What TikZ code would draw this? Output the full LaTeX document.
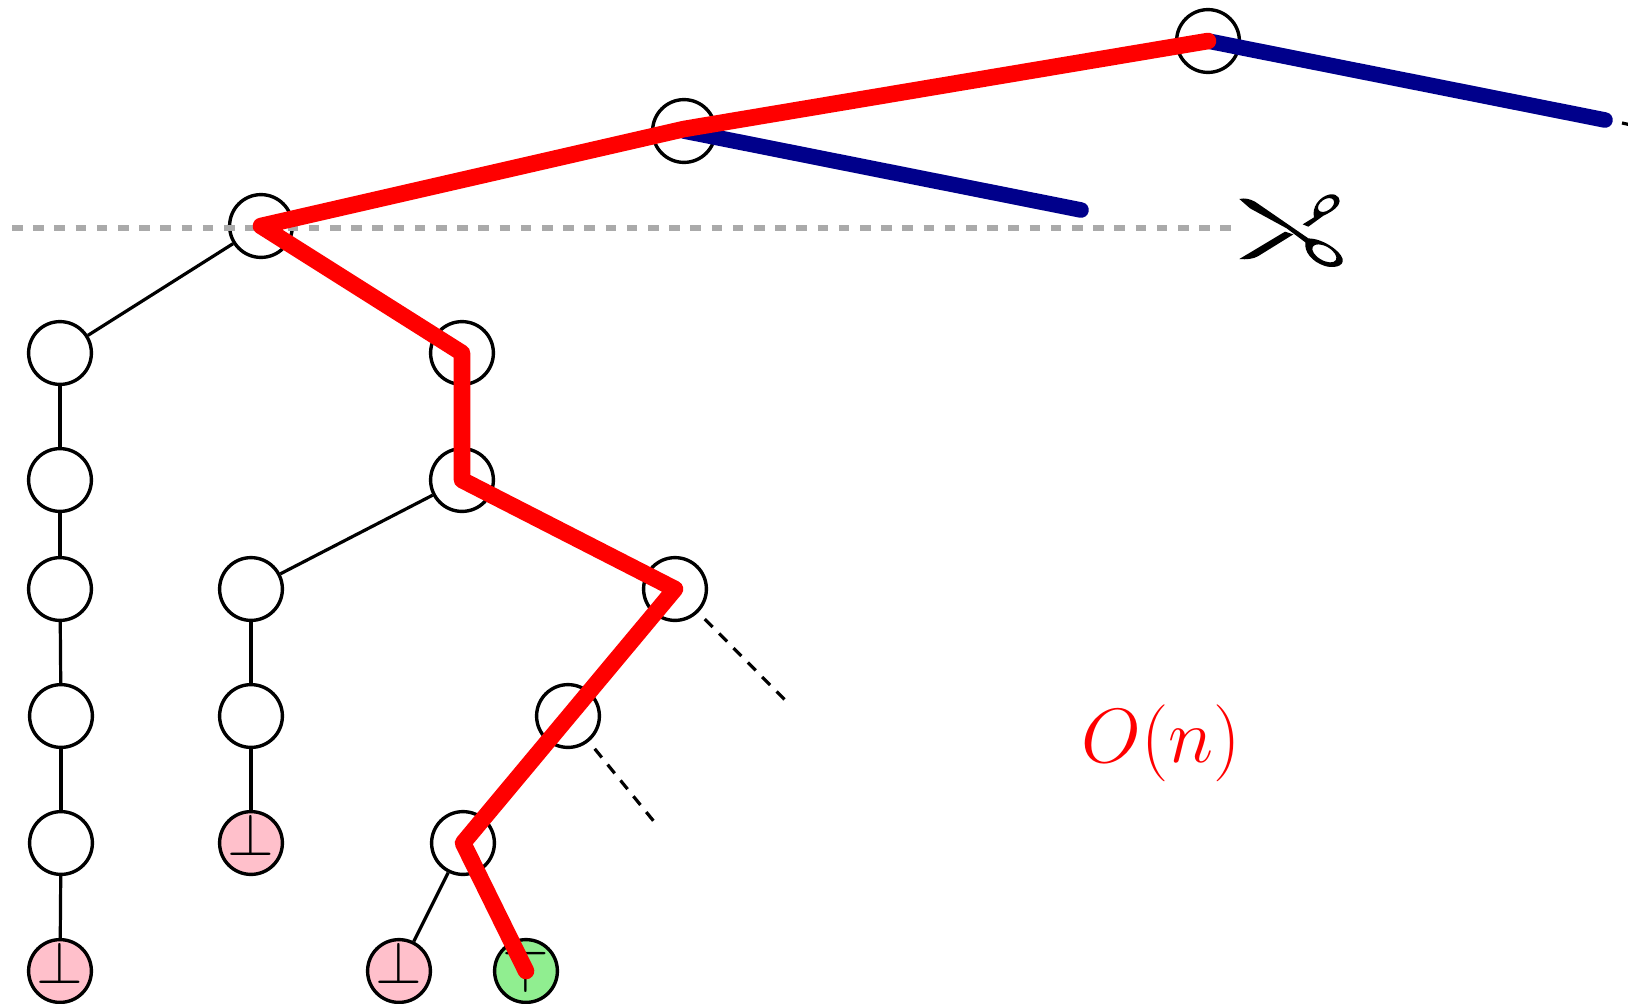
\documentclass[tikz,border=0pt]{standalone}
\usepackage{fix-cm}
\definecolor{PathClr}{RGB}{255,0,0}
\definecolor{BranchClr}{RGB}{0,0,139}
\definecolor{CutClr}{RGB}{170,170,170}
\definecolor{BotClr}{RGB}{255,192,203}
\definecolor{TopClr}{RGB}{144,238,144}
\tikzset{
  vertex/.style={circle,draw=black,line width=1.7pt,minimum size=31.4pt,inner sep=0pt,fill=white},
  botleaf/.style={vertex,fill=BotClr,font=\fontsize{30}{30}\selectfont,text height=12pt,text depth=0pt},
  topleaf/.style={vertex,fill=TopClr,font=\fontsize{30}{30}\selectfont,text height=21pt,text depth=0pt},
  treeedge/.style={line width=1.6pt,color=black},
  openedge/.style={line width=1.6pt,color=black,dash pattern=on 5.6pt off 4.6pt,dash phase=5.6pt},
  cutline/.style={line width=3.4pt,color=CutClr,dash pattern=on 5.3pt off 5.3pt},
  thickedge/.style={line width=7.8pt,line cap=round,line join=round}
}

\begin{document}
\begin{tikzpicture}[x=.5pt,y=-.5pt]
\useasboundingbox (0,0) rectangle (1628,1003);

\node[vertex] (Top) at (1208,41) {};
\node[vertex] (Mid) at (684,131) {};
\node[vertex] (Root) at (261,226) {};

\node[vertex] (La) at (60,353) {};
\node[vertex] (Lb) at (60,480) {};
\node[vertex] (Lc) at (60,589) {};
\node[vertex] (Ld) at (61,716) {};
\node[vertex] (Le) at (61,843) {};
\node[botleaf] (Lf) at (60,971) {$\bot$};

\node[vertex] (Ca) at (251,589) {};
\node[vertex] (Cb) at (251,716) {};
\node[botleaf] (Cc) at (251,843) {$\bot$};

\node[vertex] (Ra) at (462,353) {};
\node[vertex] (Rb) at (462,480) {};
\node[vertex] (Rc) at (675,589) {};
\node[vertex] (Rd) at (568,716) {};
\node[vertex] (Re) at (463,843) {};
\node[botleaf] (Rf) at (399,971) {$\bot$};
\node[topleaf] (Rg) at (526,971) {$\top$};

\coordinate (MidBend) at (684,129);
\coordinate (MidEnd) at (1081,210);
\coordinate (TopEnd) at (1605,120);
\coordinate (TickA) at (1622,123);
\coordinate (TickB) at (1650,129);
\coordinate (RcStub) at (786,701);
\coordinate (RdStub) at (656,824);
\coordinate (CutL) at (12,228);
\coordinate (CutR) at (1232,228);

\draw[treeedge] (Root) -- (La);
\draw[treeedge] (La) -- (Lb);
\draw[treeedge] (Lb) -- (Lc);
\draw[treeedge] (Lc) -- (Ld);
\draw[treeedge] (Ld) -- (Le);
\draw[treeedge] (Le) -- (Lf);
\draw[treeedge] (Rb) -- (Ca);
\draw[treeedge] (Ca) -- (Cb);
\draw[treeedge] (Cb) -- (Cc);
\draw[treeedge] (Re) -- (Rf);
\draw[openedge] (Rc) -- (RcStub);
\draw[openedge] (Rd) -- (RdStub);
\draw[openedge,dash phase=0pt] (TickA) -- (TickB);

\draw[cutline] (CutL) -- (CutR);

\begin{scope}[shift={(1230,185)},x=.1667pt,y=-.1667pt]
\fill[even odd rule] (28,42) .. controls (45,38) and (60,42) .. (75,50) -- (235,160)
  .. controls (275,160) and (330,195) .. (338,222) .. controls (342,245) and (310,250) .. (285,243)
  .. controls (245,230) and (222,200) .. (226,172) -- (170,130) -- (60,70) -- cycle
  (283,205) circle[x radius=40,y radius=21,rotate=-30];
\fill (28,222) -- (165,140) -- (190,148) -- (85,213) .. controls (70,222) and (50,224) .. (28,222) -- cycle;
\fill[even odd rule] (218,118) -- (252,97) .. controls (245,70) and (265,35) .. (300,28)
  .. controls (325,25) and (335,45) .. (325,60) .. controls (315,75) and (295,85) .. (280,92) -- (235,125) -- cycle
  (288,60) circle[x radius=27,y radius=17,rotate=35];
\end{scope}

\draw[thickedge,color=BranchClr] (Mid.center) -- (MidEnd);
\draw[thickedge,color=BranchClr] (Top.center) -- (TopEnd);
\draw[thickedge,line width=8.3pt,color=PathClr] (Top.center) -- (MidBend) -- (Root.center) -- (Ra.center) -- (Rb.center) -- (Rc.center) -- (Re.center) -- (Rg.center);

\node[text=PathClr,inner sep=0pt,font=\fontsize{38.5}{42}\selectfont] (Cost) at (1161,743) {$O(n)$};
\end{tikzpicture}
\end{document}
